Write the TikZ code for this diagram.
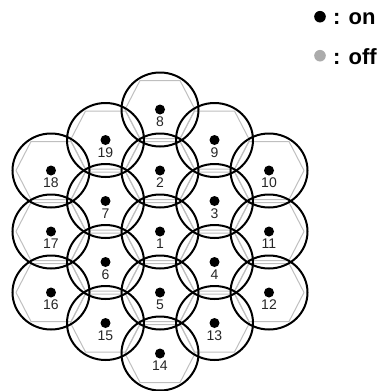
\documentclass[tikz,border=0pt]{standalone}
\usepackage{fontspec}
\setmainfont{Liberation Sans}
\begin{document}
\begin{tikzpicture}[x=1pt,y=-1pt,
  hexline/.style={draw=black!25, line width=1pt, line join=round},
  ring/.style={draw=black, line width=2pt},
  dotmark/.style={fill=black},
  lab/.style={font=\fontsize{14}{14}\selectfont, text=black!85, inner sep=0pt},
  legtext/.style={font=\fontsize{22}{22}\selectfont\bfseries, text=black, inner sep=0pt, anchor=base west}]
\useasboundingbox (0,0) rectangle (383,391);
\foreach \c/\k/\n in {0/-2/8, 0/-1/2, 0/0/1, 0/1/5, 0/2/14,
  1/-1.5/9, 1/-0.5/3, 1/0.5/4, 1/1.5/13,
  2/-1/10, 2/0/11, 2/1/12,
  -1/-1.5/19, -1/-0.5/7, -1/0.5/6, -1/1.5/15,
  -2/-1/18, -2/0/17, -2/1/16}{
  \coordinate (p\n) at ({160+\c*54.5},{231.5+\k*61});
}
% gray hexagons
\foreach \n in {1,...,19}{
  \draw[hexline, shift={(p\n)}] (-35,0) -- (-20,-29) -- (20,-29) -- (35,0) -- (20,29) -- (-20,29) -- cycle;
}
% coverage circles
\foreach \n in {1,...,19}{
  \draw[ring] (p\n) ellipse [x radius=38.5pt, y radius=37pt];
}
% dots and labels
\foreach \n in {1,...,19}{
  \fill[dotmark] (p\n) circle [radius=5pt];
  \node[lab] (l\n) at ([yshift=-12.5pt]p\n) {\n};
}
% legend
\fill[black] (320,16.7) circle [radius=5.8pt];
\node[legtext] (lon) at (333,24) {: on};
\fill[black!33] (320,55.7) circle [radius=5.8pt];
\node[legtext] (loff) at (333,64) {: off};
\end{tikzpicture}
\end{document}
